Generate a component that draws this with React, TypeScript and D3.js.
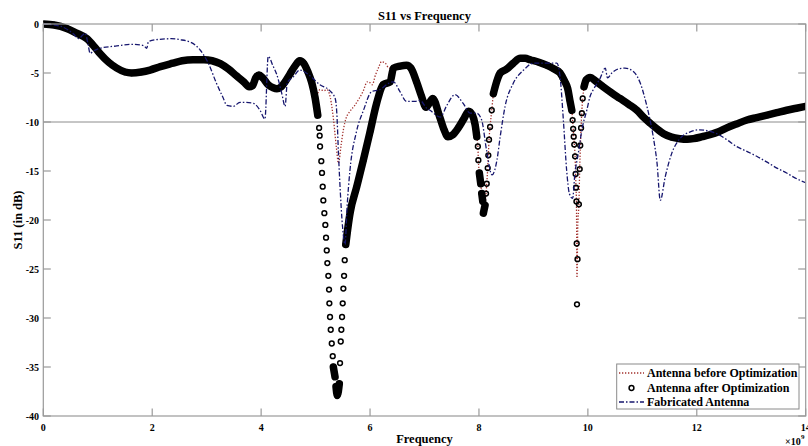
import React from 'react';
import * as d3 from 'd3';

const W = 808;
const H = 446;

const xTicks = [0, 2, 4, 6, 8, 10, 12, 14];
const yTicks = [0, -5, -10, -15, -20, -25, -30, -35, -40];
const legendLabels = ['Antenna before Optimization', 'Antenna after Optimization', 'Fabricated Antenna'];

// [frequency (GHz), S11 (dB)] — Antenna after Optimization (circles)
const afterData: [number, number][] = [
  [0, 0], [0.2, -0.1], [0.43, -0.45], [0.6, -0.9], [0.8, -1.5], [0.95, -2.4], [1.04, -3.0], [1.2, -3.9],
  [1.35, -4.5], [1.5, -4.9], [1.62, -5.0], [1.8, -4.9], [1.96, -4.7], [2.15, -4.35], [2.38, -4.0],
  [2.55, -3.75], [2.75, -3.65], [2.95, -3.65], [3.1, -3.75], [3.25, -4.05], [3.4, -4.6], [3.55, -5.3],
  [3.68, -5.9], [3.78, -6.4], [3.84, -6.3], [3.9, -5.5], [3.96, -5.2], [4.03, -5.5], [4.13, -6.2],
  [4.22, -6.5], [4.29, -6.6], [4.37, -6.4], [4.44, -5.9], [4.53, -5.1], [4.62, -4.3], [4.71, -3.75],
  [4.78, -4.0], [4.86, -4.9], [4.93, -6.0], [4.99, -7.5], [5.04, -9.3], [5.065, -10.6], [5.075, -11.4],
  [5.082, -12.5], [5.105, -14.0], [5.118, -15.2], [5.131, -16.6], [5.142, -18.0], [5.161, -19.3],
  [5.179, -20.5], [5.192, -21.8], [5.205, -23.1], [5.216, -24.4], [5.234, -25.7], [5.247, -27.1],
  [5.253, -28.5], [5.265, -29.9], [5.278, -31.2], [5.297, -32.6], [5.315, -33.9], [5.326, -35.0],
  [5.357, -36.0], [5.375, -37.0], [5.399, -37.9], [5.436, -36.7], [5.449, -34.6], [5.462, -32.4],
  [5.473, -31.2], [5.486, -29.9], [5.498, -28.5], [5.51, -27.0], [5.523, -25.7], [5.535, -24.1],
  [5.554, -22.5], [5.572, -21.7], [5.633, -19.3], [5.756, -16.6], [5.877, -13.9], [6.0, -11.0],
  [6.12, -8.1], [6.24, -6.2], [6.37, -5.9], [6.43, -4.5], [6.55, -4.3], [6.67, -4.2], [6.75, -4.5],
  [6.86, -6.0], [6.94, -7.3], [7.03, -8.5], [7.15, -7.6], [7.28, -9.5], [7.36, -10.8], [7.43, -11.5],
  [7.52, -11.3], [7.62, -10.6], [7.72, -9.7], [7.81, -8.9], [7.88, -9.3], [7.93, -10.3], [7.96, -11.5],
  [7.98, -12.5], [7.989, -13.9], [8.007, -15.2], [8.033, -16.3], [8.051, -17.3], [8.07, -18.1],
  [8.081, -19.3], [8.112, -18.5], [8.13, -17.3], [8.143, -16.3], [8.161, -14.7], [8.172, -13.4],
  [8.185, -11.8], [8.204, -10.5], [8.235, -8.8], [8.265, -7.1], [8.33, -5.8], [8.39, -5.0], [8.51, -4.6],
  [8.63, -4.0], [8.76, -3.5], [8.85, -3.5], [8.94, -3.65], [9.1, -3.9], [9.24, -4.2], [9.38, -4.6],
  [9.49, -5.0], [9.57, -5.8], [9.63, -6.6], [9.67, -7.8], [9.705, -8.8], [9.72, -9.8], [9.73, -10.7],
  [9.74, -11.5], [9.75, -12.3], [9.765, -13.5], [9.775, -15.3], [9.782, -16.7], [9.79, -18.1],
  [9.795, -22.4], [9.8, -28.6], [9.81, -24.0], [9.835, -18.4], [9.85, -14.8], [9.86, -12.4],
  [9.875, -10.6], [9.89, -9.1], [9.905, -7.6], [9.93, -6.4], [9.97, -5.7], [10.04, -5.45], [10.15, -5.85],
  [10.28, -6.4], [10.43, -7.0], [10.59, -7.6], [10.75, -8.2], [10.9, -8.8], [11.02, -9.5], [11.14, -10.1],
  [11.27, -10.7], [11.39, -11.2], [11.54, -11.55], [11.69, -11.7], [11.82, -11.75], [11.94, -11.7],
  [12.1, -11.5], [12.24, -11.3], [12.4, -11.0], [12.55, -10.6], [12.73, -10.2], [12.92, -9.8],
  [13.1, -9.55], [13.29, -9.3], [13.47, -9.05], [13.65, -8.8], [13.83, -8.6], [14.0, -8.4],
];

// Antenna before Optimization (dotted)
const beforeData: [number, number][] = [
  [0, 0], [0.43, -0.45], [0.8, -1.5], [1.04, -3.0], [1.35, -4.5], [1.62, -5.0], [1.96, -4.7], [2.38, -4.0],
  [2.75, -3.65], [3.1, -3.75], [3.4, -4.6], [3.68, -5.9], [3.78, -6.4], [3.9, -5.5], [3.96, -5.2],
  [4.13, -6.2], [4.29, -6.6], [4.44, -5.9], [4.62, -4.3], [4.71, -3.75], [4.84, -4.6], [4.93, -6.0],
  [4.98, -7.8], [5.03, -7.2], [5.08, -6.7], [5.15, -6.8], [5.21, -6.7], [5.27, -7.5], [5.33, -9.8],
  [5.38, -12.5], [5.42, -14.2], [5.47, -12.3], [5.51, -10.8], [5.56, -9.6], [5.62, -9.0], [5.72, -8.3],
  [5.8, -7.6], [5.87, -6.9], [5.95, -5.9], [6.0, -6.0], [6.04, -6.2], [6.1, -5.2], [6.16, -4.4],
  [6.21, -3.85], [6.28, -4.0], [6.35, -4.5], [6.43, -4.5], [6.55, -4.3], [6.67, -4.2], [6.75, -4.5],
  [6.86, -6.0], [6.94, -7.3], [7.03, -8.5], [7.15, -7.6], [7.28, -9.5], [7.36, -10.8], [7.43, -11.5],
  [7.52, -11.3], [7.62, -10.6], [7.72, -9.7], [7.81, -8.9], [7.88, -9.3], [7.93, -10.3], [7.96, -11.5],
  [7.98, -12.5], [7.989, -13.9], [8.007, -15.2], [8.033, -16.3], [8.051, -17.3], [8.07, -18.1],
  [8.081, -19.3], [8.112, -18.5], [8.13, -17.3], [8.143, -16.3], [8.161, -14.7], [8.172, -13.4],
  [8.185, -11.8], [8.204, -10.5], [8.235, -8.8], [8.265, -7.1], [8.33, -5.8], [8.39, -5.0], [8.51, -4.6],
  [8.63, -4.0], [8.76, -3.5], [8.94, -3.65], [9.24, -4.2], [9.49, -5.0], [9.57, -5.8], [9.63, -6.6],
  [9.67, -7.8], [9.705, -8.8], [9.72, -9.8], [9.74, -11.5], [9.765, -13.5], [9.782, -16.7],
  [9.79, -18.1], [9.8, -25.9], [9.815, -20.5], [9.835, -18.4], [9.85, -14.8], [9.875, -10.6],
  [9.905, -7.6], [9.97, -5.7], [10.04, -5.45], [10.28, -6.4], [10.59, -7.6], [10.9, -8.8], [11.14, -10.1],
  [11.39, -11.2], [11.69, -11.7], [11.94, -11.7], [12.24, -11.3], [12.55, -10.6], [12.92, -9.8],
  [13.29, -9.3], [13.65, -8.8], [14.0, -8.4],
];

// Fabricated Antenna (dash-dot)
const fabData: [number, number][] = [
  [0, 0], [0.3, -0.2], [0.55, -1.0], [0.65, -1.5], [0.73, -1.1], [0.77, -0.95], [0.82, -2.0], [0.86, -3.0],
  [0.92, -2.75], [1.04, -2.48], [1.35, -2.24], [1.65, -2.07], [1.84, -2.2], [1.9, -2.48], [1.93, -1.8],
  [2.14, -1.56], [2.35, -1.5], [2.51, -1.6], [2.72, -1.9], [2.88, -2.65], [3.03, -4.0], [3.18, -6.05],
  [3.3, -7.5], [3.37, -8.3], [3.49, -8.4], [3.61, -8.0], [3.73, -8.0], [3.86, -8.1], [3.98, -8.8],
  [4.07, -9.7], [4.13, -3.3], [4.22, -4.3], [4.29, -5.2], [4.38, -7.1], [4.44, -8.4], [4.48, -6.0],
  [4.59, -5.4], [4.71, -4.7], [4.9, -5.3], [5.08, -6.2], [5.26, -6.8], [5.36, -7.6], [5.39, -9.1],
  [5.42, -13.2], [5.44, -15.6], [5.5, -21.0], [5.54, -22.5], [5.58, -18.5], [5.63, -15.0], [5.75, -11.0],
  [5.88, -8.8], [6.03, -6.9], [6.18, -6.7], [6.34, -6.05], [6.43, -5.9], [6.55, -6.9], [6.67, -7.9],
  [6.83, -7.9], [6.92, -7.8], [7.04, -8.6], [7.1, -8.8], [7.29, -9.5], [7.41, -8.3], [7.56, -7.2],
  [7.71, -8.1], [7.84, -9.1], [7.96, -9.1], [8.05, -9.8], [8.14, -12.9], [8.24, -15.4], [8.33, -13.9],
  [8.39, -11.5], [8.48, -8.4], [8.63, -6.05], [8.82, -4.7], [9.0, -4.0], [9.18, -4.0], [9.43, -4.0],
  [9.49, -5.4], [9.55, -9.8], [9.61, -14.9], [9.66, -17.3], [9.72, -17.8], [9.76, -15.4], [9.83, -13.0],
  [9.89, -10.8], [9.98, -8.8], [10.04, -7.4], [10.1, -6.7], [10.22, -5.6], [10.32, -4.5], [10.36, -5.5],
  [10.44, -5.0], [10.55, -4.6], [10.68, -4.5], [10.84, -4.87], [10.96, -6.0], [11.08, -8.3], [11.2, -11.5],
  [11.27, -14.2], [11.33, -18.0], [11.42, -15.6], [11.54, -13.2], [11.69, -11.7], [11.88, -11.0],
  [12.05, -10.8], [12.2, -10.9], [12.37, -11.2], [12.55, -11.8], [12.73, -12.5], [12.92, -13.0],
  [13.1, -13.5], [13.29, -14.1], [13.47, -14.7], [13.65, -15.2], [13.77, -15.6], [14.0, -16.2],
];

const FONT = '"Liberation Serif", "Times New Roman", serif';
const AXIS = '#9a9a9a';
const RED = '#a3302c';
const NAVY = '#16166e';

export default function App() {
  const left = 43.3, right = 805.7, top = 24, bottom = 416;
  const x = d3.scaleLinear().domain([0, 14]).range([left, right]);
  const y = d3.scaleLinear().domain([-40, 0]).range([bottom, top]);

  const line = d3.line<[number, number]>()
    .x(d => x(d[0]))
    .y(d => y(d[1]))
    .curve(d3.curveMonotoneX);

  // dense runs of markers (where overlapping circles form a solid band)
  const runs: [number, number][][] = [];
  let cur: [number, number][] = [afterData[0]];
  for (let i = 1; i < afterData.length; i++) {
    const dx = Math.abs(x(afterData[i][0]) - x(afterData[i - 1][0]));
    const dy = Math.abs(y(afterData[i][1]) - y(afterData[i - 1][1]));
    if (dx > 0 && dy / dx < 8) {
      cur.push(afterData[i]);
    } else {
      if (cur.length > 1) runs.push(cur);
      cur = [afterData[i]];
    }
  }
  if (cur.length > 1) runs.push(cur);

  const tickLen = 7.5;
  const lx0 = 619, lx1 = 644;
  const ly = [373, 388, 402];

  return (
    <svg width={W} height={H} style={{ position: 'absolute', left: 0, top: 0, background: '#fff' }}
      fontFamily={FONT}>
      <rect x={0} y={0} width={W} height={H} fill="#fff" />
      <defs>
        <clipPath id="plot">
          <rect x={left} y={top - 4} width={right - left} height={bottom - top + 8} />
        </clipPath>
      </defs>

      {/* -10 dB reference line */}
      <line x1={left} x2={right} y1={y(-10)} y2={y(-10)} stroke="#8c8c8c" strokeWidth={1} />

      <g clipPath="url(#plot)">
        <path d={line(beforeData) || ''} fill="none" stroke={RED} strokeWidth={1.3} strokeDasharray="1.3 1.7" />
        {runs.map((r, i) => (
          <path key={'r' + i} d={line(r) || ''} fill="none" stroke="#000" strokeWidth={7.5}
            strokeLinecap="round" strokeLinejoin="round" />
        ))}
        {afterData.map((d, i) => (
          <circle key={'c' + i} cx={x(d[0])} cy={y(d[1])} r={2.4} fill="none" stroke="#000" strokeWidth={1.5} />
        ))}
        <path d={line(fabData) || ''} fill="none" stroke={NAVY} strokeWidth={1.3} strokeDasharray="5 2 1.5 2" />
      </g>

      {/* box */}
      <rect x={left} y={top} width={right - left} height={bottom - top} fill="none" stroke={AXIS} strokeWidth={1.2} />

      {/* x ticks */}
      {xTicks.map(t => (
        <g key={'x' + t}>
          <line x1={x(t)} x2={x(t)} y1={bottom} y2={bottom - tickLen} stroke={AXIS} strokeWidth={1.2} />
          <line x1={x(t)} x2={x(t)} y1={top} y2={top + tickLen} stroke={AXIS} strokeWidth={1.2} />
          <text x={x(t)} y={431} textAnchor="middle" fontSize={10} fontWeight="bold" fill="#000">{t}</text>
        </g>
      ))}
      {/* y ticks */}
      {yTicks.map(t => (
        <g key={'y' + t}>
          <line x1={left} x2={left + tickLen} y1={y(t)} y2={y(t)} stroke={AXIS} strokeWidth={1.2} />
          <line x1={right} x2={right - tickLen} y1={y(t)} y2={y(t)} stroke={AXIS} strokeWidth={1.2} />
          <text x={39} y={y(t)} dy="0.35em" textAnchor="end" fontSize={10} fontWeight="bold" fill="#000">{t}</text>
        </g>
      ))}

      {/* exponent label */}
      <text x={785} y={445} fontSize={10} fontWeight="bold" fill="#000">×10</text>
      <text x={801} y={439} fontSize={7} fontWeight="bold" fill="#000">9</text>

      {/* titles */}
      <text x={(left + right) / 2} y={20} textAnchor="middle" fontSize={12.5} fontWeight="bold" fill="#000">S11 vs Frequency</text>
      <text x={(left + right) / 2} y={443} textAnchor="middle" fontSize={12.5} fontWeight="bold" fill="#000">Frequency</text>
      <text transform={`translate(22,${(top + bottom) / 2}) rotate(-90)`} textAnchor="middle" fontSize={12.5}
        fontWeight="bold" fill="#000">S11 (in dB)</text>

      {/* legend */}
      <rect x={616.7} y={364} width={182.3} height={45} fill="#fff" stroke="#8a8a8a" strokeWidth={1} />
      <line x1={lx0} x2={lx1} y1={ly[0]} y2={ly[0]} stroke={RED} strokeWidth={1.3} strokeDasharray="1.3 1.7" />
      <circle cx={(lx0 + lx1) / 2} cy={ly[1]} r={2.4} fill="none" stroke="#000" strokeWidth={1.5} />
      <line x1={lx0} x2={lx1} y1={ly[2]} y2={ly[2]} stroke={NAVY} strokeWidth={1.3} strokeDasharray="5 2 1.5 2" />
      {legendLabels.map((l, i) => (
        <text key={l} x={647} y={ly[i]} dy="0.35em" fontSize={12} fontWeight="bold" fill="#000">{l}</text>
      ))}
    </svg>
  );
}
